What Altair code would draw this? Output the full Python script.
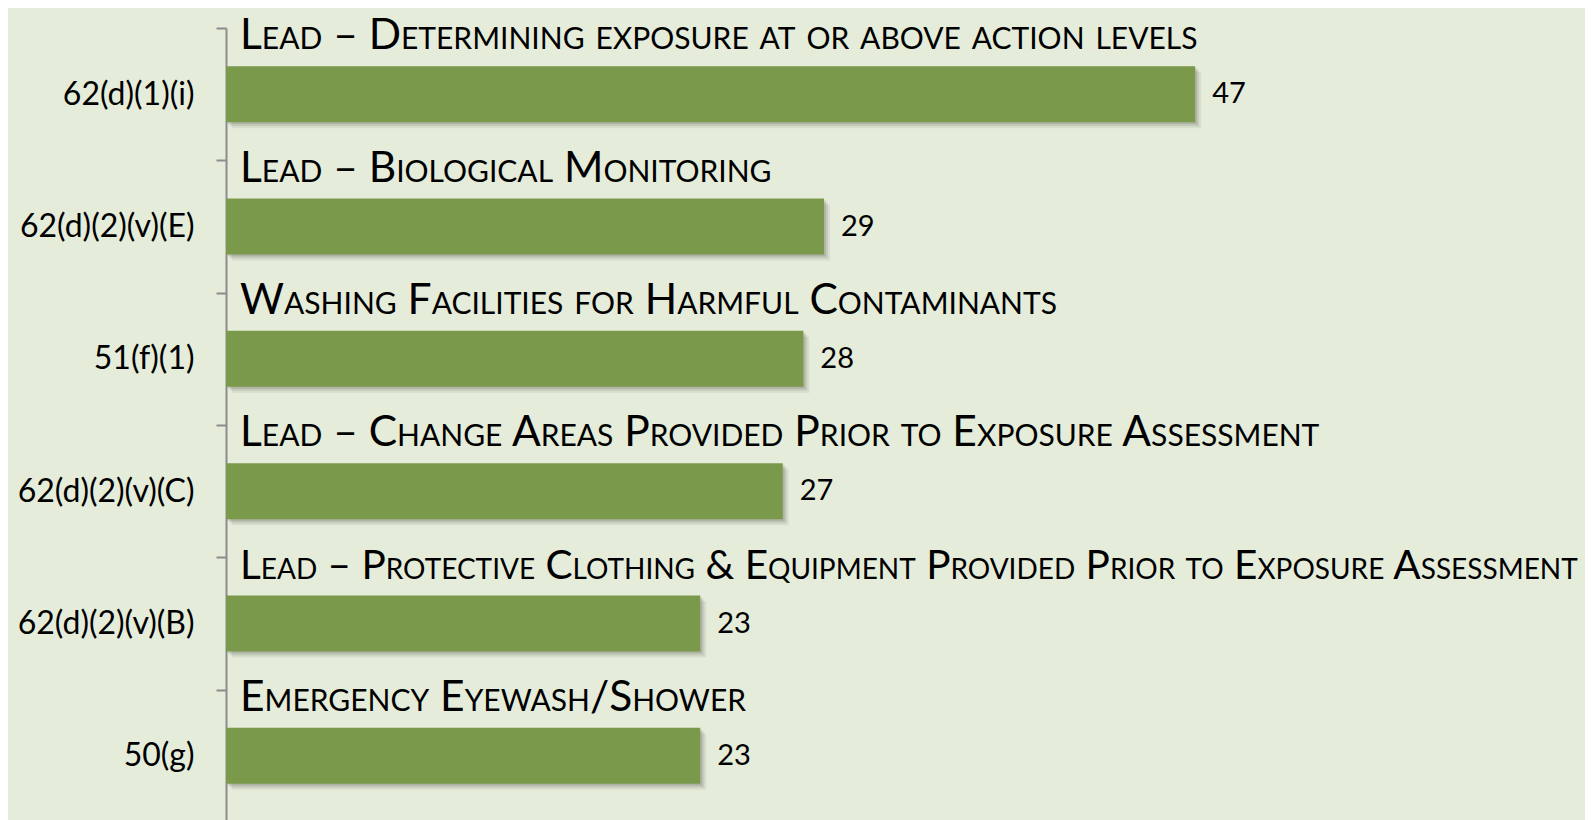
import altair as alt
import pandas as pd

codes = ["62(d)(1)(i)", "62(d)(2)(v)(E)", "51(f)(1)", "62(d)(2)(v)(C)", "62(d)(2)(v)(B)", "50(g)"]
titles = [
    "Lead – Determining exposure at or above action levels",
    "Lead – Biological Monitoring",
    "Washing Facilities for Harmful Contaminants",
    "Lead – Change Areas Provided Prior to Exposure Assessment",
    "Lead – Protective Clothing & Equipment Provided Prior to Exposure Assessment",
    "Emergency Eyewash/Shower",
]
counts = [47, 29, 28, 27, 23, 23]

df = pd.DataFrame({"code": codes, "title": titles, "count": counts})

BG = "#E5ECDA"
BAR = "#7B994B"
FONT = "Lato"

y_enc = alt.Y(
    "code:N",
    sort=codes,
    title=None,
    scale=alt.Scale(paddingInner=0, paddingOuter=0),
    axis=alt.Axis(
        tickBand="extent",
        labelPadding=22,
        labelFontSize=32,
        labelFont=FONT,
        labelColor="black",
        labelAlign="right",
        domainColor="#8C8C8C",
        domainWidth=2,
        tickColor="#8C8C8C",
        tickWidth=2,
        tickSize=10,
        grid=False,
    ),
)
x_enc = alt.X("count:Q", scale=alt.Scale(domain=[0, 50]), axis=None)

base = alt.Chart(df)

titles_layer = base.mark_text(
    align="left", baseline="alphabetic", dx=14, dy=-45, font=FONT, color="black"
).encode(
    x=alt.value(0),
    y=y_enc,
    text="title:N",
    size=alt.condition("length(datum.title) > 70", alt.value(40.5), alt.value(42.5)),
)

shadows = [
    base.mark_bar(size=56, color="#000000", opacity=op, xOffset=off, yOffset=off).encode(x=x_enc, y=y_enc)
    for off, op in [(6, 0.06), (4, 0.08), (2, 0.12)]
]

bars = base.mark_bar(size=56, color=BAR).encode(x=x_enc, y=y_enc)

values = base.mark_text(
    align="left", baseline="middle", dx=17, fontSize=29, font=FONT, color="black"
).encode(x=x_enc, y=y_enc, text="count:Q")

chart = alt.layer(titles_layer, *shadows, bars, values).properties(
    width=1031,
    height=794,
    background=BG,
    padding={"left": 218, "top": 20, "right": 328, "bottom": 0},
    autosize=alt.AutoSizeParams(type="none"),
).configure_view(stroke=None)

chart.save(
    "out.html",
    embed_options={
        "renderer": "svg",
        "actions": False,
        "patch": [
            {"op": "add", "path": "/marks/0/encode/update/fontVariant", "value": {"value": "small-caps"}}
        ],
    },
)
